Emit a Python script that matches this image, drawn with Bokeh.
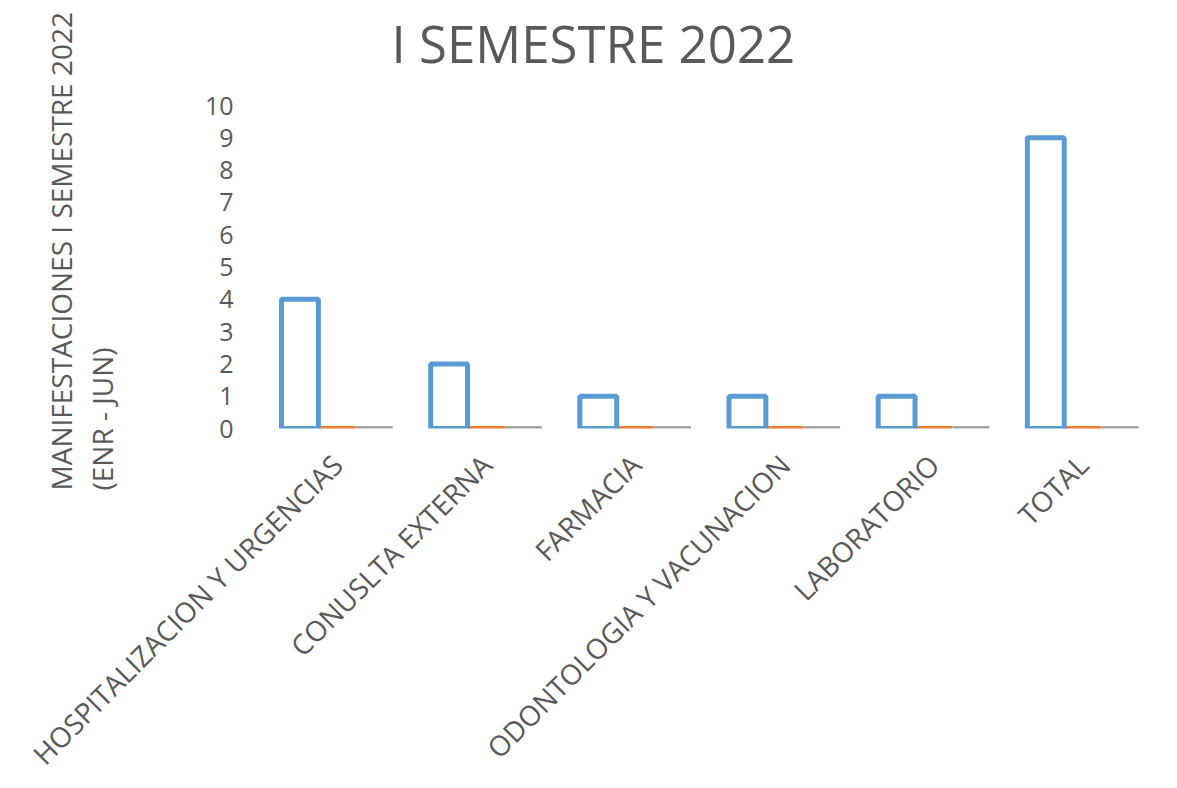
import math
from bokeh.plotting import figure
from bokeh.models import (FactorRange, Range1d, FixedTicker, Title, ColumnDataSource,
                          LinearAxis, CategoricalAxis)
from bokeh.transform import dodge
from bokeh.embed import file_html
from bokeh.resources import INLINE

# ---- data ----
categories = ["HOSPITALIZACION Y URGENCIAS", "CONUSLTA EXTERNA", "FARMACIA",
              "ODONTOLOGIA Y VACUNACION", "LABORATORIO", "TOTAL"]
serie_1 = [4, 2, 1, 1, 1, 9]
serie_2 = [0, 0, 0, 0, 0, 0]
serie_3 = [0, 0, 0, 0, 0, 0]
y_ticks = [0, 1, 2, 3, 4, 5, 6, 7, 8, 9, 10]
title_text = "I SEMESTRE 2022"
y_title_lines = ["MANIFESTACIONES I SEMESTRE 2022", "(ENR - JUN)"]

FONT = "Open Sans"
TXT = "#595959"

p = figure(
    x_range=FactorRange(*categories, range_padding=0, factor_padding=0),
    y_range=Range1d(0, 10),
    width=1177, height=788,
    min_border_left=262, min_border_right=20,
    min_border_top=104, min_border_bottom=353,
    output_backend="svg", toolbar_location=None,
)
p.outline_line_color = None
p.xgrid.visible = False
p.ygrid.visible = False

src = ColumnDataSource(dict(cat=categories, s1=serie_1, s2=serie_2, s3=serie_3))
series = [("s3", 0.249, "#A5A5A5"), ("s2", 0.0, "#ED7D31"), ("s1", -0.249, "#5B9BD5")]
for field, off, color in series:
    p.vbar(x=dodge("cat", off, range=p.x_range), top=field, bottom=0, width=0.247,
           source=src, fill_color=None, line_color=color, line_width=5)

# y axis
p.yaxis.ticker = FixedTicker(ticks=y_ticks)
p.yaxis.axis_line_color = None
p.yaxis.major_tick_line_color = None
p.yaxis.minor_tick_line_color = None
p.yaxis.major_tick_out = 0
p.yaxis.major_label_text_font = FONT
p.yaxis.major_label_text_font_size = "25px"
p.yaxis.major_label_text_color = TXT
p.yaxis.major_label_standoff = 29

# x axis
p.xaxis.axis_line_color = None
p.xaxis.major_tick_line_color = None
p.xaxis.major_tick_out = 0
p.xaxis.major_label_orientation = math.pi / 4
p.xaxis.major_label_standoff = 31
p.xaxis.major_label_text_font = FONT
p.xaxis.major_label_text_font_size = "28px"
p.xaxis.major_label_text_color = TXT

# invisible spacer axes on the default ranges (reserve room for the titles)
left_spacer = LinearAxis(ticker=FixedTicker(ticks=[5]), axis_line_color=None,
                         major_tick_line_color="white", minor_tick_line_color=None,
                         major_tick_out=80, major_tick_in=0, minor_tick_out=0,
                         major_label_standoff=0, major_label_overrides={5: ""},
                         major_label_text_font_size="1px", major_label_text_color=None)
p.add_layout(left_spacer, "left")

top_spacer = CategoricalAxis(axis_line_color=None,
                             major_tick_line_color="white", minor_tick_line_color=None,
                             major_tick_out=23, major_tick_in=0,
                             major_label_standoff=0,
                             major_label_overrides={c: "" for c in categories},
                             major_label_text_font_size="1px", major_label_text_color=None)
p.add_layout(top_spacer, "above")

# title
p.title.text = title_text
p.title.align = "left"
p.title.offset = 129
p.title.standoff = 10
p.title.text_font = FONT
p.title.text_font_size = "51px"
p.title.text_font_style = "normal"
p.title.text_color = TXT

# y axis title (two lines), inner line first
p.add_layout(Title(text=y_title_lines[1], align="left", offset=-62, standoff=1,
                   text_font=FONT, text_font_size="28px", text_font_style="normal",
                   text_color=TXT), "left")
p.add_layout(Title(text=y_title_lines[0], align="left", offset=-62, standoff=1,
                   text_font=FONT, text_font_size="28px", text_font_style="normal",
                   text_color=TXT), "left")

open("out.html", "w").write(file_html(p, INLINE))
